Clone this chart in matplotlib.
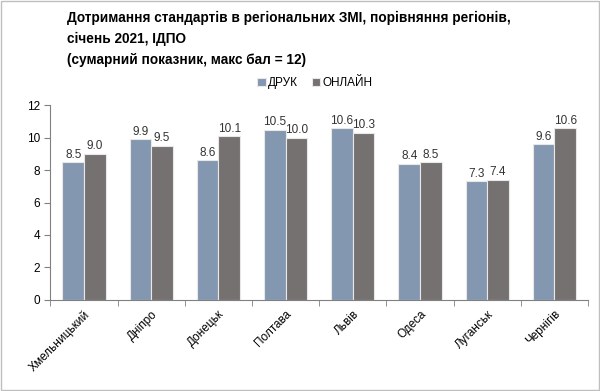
import matplotlib.pyplot as plt
import numpy as np

plt.rcParams['font.family'] = ['Liberation Sans', 'DejaVu Sans']

regions = ["Хмельницький", "Дніпро", "Донецьк", "Полтава", "Львів", "Одеса", "Луганськ", "Чернігів"]
druk = [8.5, 9.9, 8.6, 10.5, 10.6, 8.4, 7.3, 9.6]
online = [9.0, 9.5, 10.1, 10.0, 10.3, 8.5, 7.4, 10.6]

fig = plt.figure(figsize=(6, 3.91), dpi=100)
fig.patches.append(plt.Rectangle((0.002, 0.002), 0.996, 0.996, transform=fig.transFigure,
                                 fill=False, edgecolor='#bfbfbf', linewidth=1))
ax = fig.add_axes([0.084, 0.233, 0.896, 0.498])

x = np.arange(len(regions))
w = 0.32
b1 = ax.bar(x - w / 2, druk, w, color='#8497b0', edgecolor='#e8e8e8', linewidth=0.8, label='ДРУК')
b2 = ax.bar(x + w / 2, online, w, color='#767171', edgecolor='#e8e8e8', linewidth=0.8, label='ОНЛАЙН')
ax.bar_label(b1, fmt='%.1f', fontsize=8.5, padding=1, color='#333333')
ax.bar_label(b2, fmt='%.1f', fontsize=8.5, padding=1, color='#333333')

ax.set_xlim(-0.5, len(regions) - 0.5)
ax.set_ylim(0, 12)
ax.set_yticks(range(0, 13, 2))
ax.set_xticks(x)
ax.set_xticklabels(regions, rotation=45, ha='right', rotation_mode='anchor', fontsize=8.5)
ax.set_xticks(np.arange(-0.5, len(regions)), minor=True)
ax.tick_params(axis='x', which='major', length=0, pad=6)
ax.tick_params(axis='x', which='minor', length=4, color='#808080')
ax.tick_params(axis='y', length=4, color='#808080', labelsize=8.5)
for s in ['top', 'right']:
    ax.spines[s].set_visible(False)
ax.spines['left'].set_color('#808080')
ax.spines['bottom'].set_color('#808080')

fig.text(0.112, 0.972, "Дотримання стандартів в регіональних ЗМІ, порівняння регіонів,\nсічень 2021, ІДПО\n(сумарний показник, макс бал = 12)",
         fontsize=9.8, fontweight='bold', va='top', ha='left', linespacing=1.65)
fig.legend(loc='center', bbox_to_anchor=(0.525, 0.787), ncol=2, frameon=False, fontsize=8.5,
           handlelength=0.7, handleheight=0.7, handletextpad=0.2, columnspacing=1.2)

fig.savefig('out.png', dpi=100)
